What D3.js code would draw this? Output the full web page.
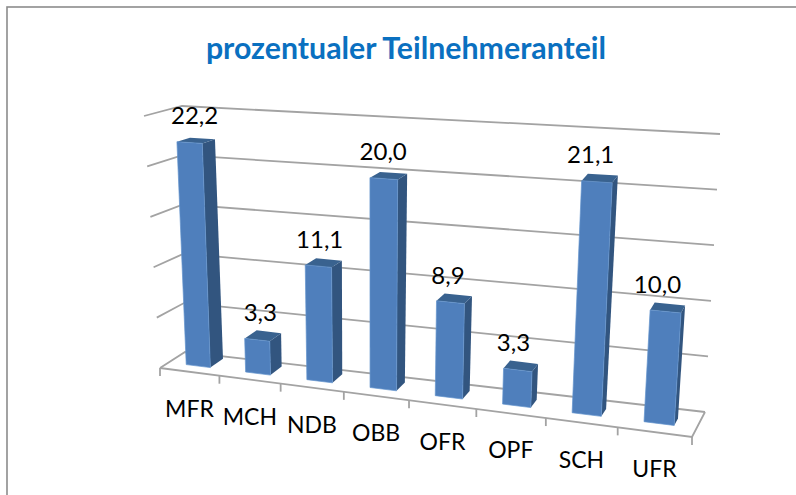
<!DOCTYPE html>
<html>
<head>
<meta charset="utf-8">
<script src="https://cdn.jsdelivr.net/npm/d3@7"></script>
<style>
  html, body { margin: 0; padding: 0; background: #fff; }
  svg { display: block; font-family: Lato, "Open Sans", sans-serif; }
</style>
</head>
<body>
<svg id="chart" width="796" height="495"></svg>
<script>
const categories = ['MFR', 'MCH', 'NDB', 'OBB', 'OFR', 'OPF', 'SCH', 'UFR'];
const values = [22.2, 3.3, 11.1, 20.0, 8.9, 3.3, 21.1, 10.0];
const gridTicks = [0, 5, 10, 15, 20, 25];
const chartTitle = 'prozentualer Teilnehmeranteil';

const svg = d3.select('#chart');

// corners of the 3d box on screen: f/b = front/back, l/r = left/right, 0/1 = floor/top
const box = {
  fl0: [160, 368], bl0: [185, 352], fr0: [692, 437], br0: [705, 412],
  fl1: [144, 116], bl1: [182, 106], fr1: [712, 152], br1: [720, 134]
};

const yScale = d3.scaleLinear().domain([0, 25]).range([0, 1]);
const xBand = d3.scaleBand().domain(categories).range([0, 1]).paddingInner(0.59).paddingOuter(0.3);
const xTick = d3.scaleLinear().domain([0, categories.length]).range([0, 1]);
const labelShift = d3.scaleLinear().domain([0, 1]).range([6, -9]);

// foreshortening along the x axis, the far right categories sit closer to the viewer
const k = 0.88;
function warp(u) { return u * k / (1 + u * (k - 1)); }

function lerp(a, b, t) { return [a[0] + (b[0] - a[0]) * t, a[1] + (b[1] - a[1]) * t]; }
function mix(a, b, t) { return a + (b - a) * t; }

function project(u, z, h) {
  const s = warp(u);
  const floor = lerp(lerp(box.fl0, box.fr0, s), lerp(box.bl0, box.br0, s), z);
  const top = lerp(lerp(box.fl1, box.fr1, s), lerp(box.bl1, box.br1, s), z);
  return lerp(floor, top, h);
}

// bar depth as a fraction of the floor depth, it changes with the viewing angle
const zFront = 0.35;
function zBack(u, h) {
  return zFront + mix(mix(0.55, 0.27, u), mix(0.34, 0.45, u), h);
}

const line = d3.line();

svg.append('rect')
  .attr('x', 7).attr('y', 7).attr('width', 800).attr('height', 500)
  .attr('fill', '#fff').attr('stroke', '#8c8c8c').attr('stroke-width', 1.6);

svg.append('text')
  .attr('x', 406).attr('y', 59)
  .attr('text-anchor', 'middle')
  .attr('font-size', 30.3).attr('font-weight', 700)
  .attr('fill', '#0a70c0')
  .text(chartTitle);

// gridlines on the back wall and their stubs on the left wall
const gridG = svg.append('g').attr('fill', 'none').attr('stroke', '#a3a3a3').attr('stroke-width', 1.8);
gridTicks.forEach(function (t) {
  const h = yScale(t);
  gridG.append('path').attr('d', line([project(0, 0, h), project(0, 1, h), project(1, 1, h)]));
});

// floor front edge with tick marks
const axisG = svg.append('g').attr('fill', 'none').attr('stroke', '#a3a3a3').attr('stroke-width', 1.8);
axisG.append('path').attr('d', line([project(0, 0, 0), project(1, 0, 0), project(1, 1, 0)]));
d3.range(categories.length + 1).forEach(function (i) {
  const p = project(xTick(i), 0, 0);
  axisG.append('path').attr('d', line([p, [p[0], p[1] + 8]]));
});

// bars
const barsG = svg.append('g').attr('stroke', 'none');
categories.forEach(function (cat, i) {
  const u0 = xBand(cat);
  const u1 = u0 + xBand.bandwidth();
  const h = yScale(values[i]);
  barsG.append('path').attr('fill', '#32557f')
    .attr('d', line([project(u1, zFront, 0), project(u1, zBack(u1, 0), 0), project(u1, zBack(u1, h), h), project(u1, zFront, h)]) + 'Z');
  barsG.append('path').attr('fill', '#39628f')
    .attr('d', line([project(u0, zFront, h), project(u1, zFront, h), project(u1, zBack(u1, h), h), project(u0, zBack(u0, h), h)]) + 'Z');
  barsG.append('path').attr('fill', '#4f7fbc')
    .attr('stroke', '#6394cd').attr('stroke-width', 0.7)
    .attr('d', line([project(u0, zFront, 0), project(u1, zFront, 0), project(u1, zFront, h), project(u0, zFront, h)]) + 'Z');
});

// value labels, comma decimals as in the source
const labelG = svg.append('g').attr('fill', '#000').attr('font-size', 24).attr('text-anchor', 'middle');
categories.forEach(function (cat, i) {
  const uc = xBand(cat) + xBand.bandwidth() / 2;
  const p = project(uc, zFront, yScale(values[i]));
  labelG.append('text')
    .attr('x', p[0] + labelShift(uc)).attr('y', p[1] - 18.5)
    .text(values[i].toFixed(1).replace('.', ','));
});

// category labels under the floor
const catG = svg.append('g').attr('fill', '#000').attr('font-size', 23).attr('text-anchor', 'middle');
categories.forEach(function (cat, i) {
  const p = project(xTick(i + 0.5), 0, 0);
  catG.append('text')
    .attr('x', p[0]).attr('y', p[1] + 45)
    .text(cat);
});
</script>
</body>
</html>
